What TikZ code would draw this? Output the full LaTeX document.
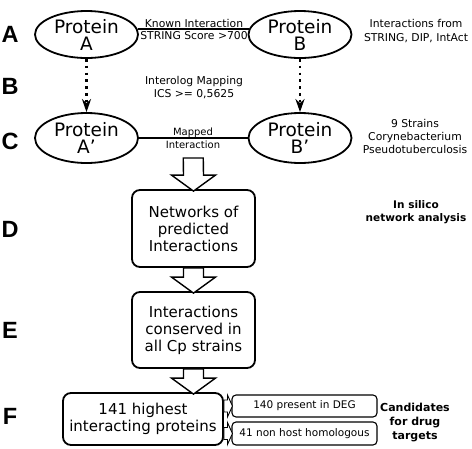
\documentclass[tikz,border=0pt]{standalone}
\usepackage{fontspec}
\setmainfont{DejaVu Sans}
\newfontfamily\letterfont{Liberation Sans}
\usetikzlibrary{calc,arrows.meta,shapes.geometric}
\newcommand{\hollowdown}[2]{%
  \draw[hollow] ($(#1)+(-10,0)$) -- ($(#2)+(-10,-16)$) -- ($(#2)+(-22,-16)$) -- (#2)
    -- ($(#2)+(22,-16)$) -- ($(#2)+(10,-16)$) -- ($(#1)+(10,0)$) -- cycle;}
\newcommand{\hollowright}[2]{%
  \draw[hollowsmall] ($(#1)+(0,-6)$) -- ($(#2)+(-5,-6)$) -- ($(#2)+(-5,-11)$) -- (#2)
    -- ($(#2)+(-5,11)$) -- ($(#2)+(-5,6)$) -- ($(#1)+(0,6)$) -- cycle;}
\begin{document}
\begin{tikzpicture}[x=1pt,y=-1pt,
  prot/.style={ellipse, draw, line width=1.8pt, inner sep=0pt, align=center,
    minimum width=103pt, font=\fontsize{18.5}{17}\selectfont},
  rbox/.style={draw, rounded corners=8pt, line width=1.8pt, inner sep=0pt,
    align=center, font=\fontsize{15}{17}\selectfont},
  sbox/.style={draw, rounded corners=4pt, line width=1.1pt, inner sep=0pt,
    minimum width=145pt, font=\fontsize{10.5}{12}\selectfont},
  hollow/.style={draw, fill=white, line width=1.4pt, line join=miter},
  hollowsmall/.style={draw, fill=white, line width=0.9pt, line join=miter},
  link/.style={line width=2.6pt},
  dotarrow/.style={line width=2.6pt, dash pattern=on 2.6pt off 4.2pt,
    -{Stealth[length=13pt,width=9pt,inset=4pt]}},
  txt/.style={anchor=base, inner sep=0pt, font=\fontsize{10.8}{13}\selectfont},
  btxt/.style={anchor=base, inner sep=0pt, font=\bfseries\fontsize{11}{13}\selectfont},
  letter/.style={inner sep=0pt, font=\letterfont\bfseries\fontsize{23.5}{23.5}\selectfont}
]
\useasboundingbox (0,0) rectangle (472,448);

% letters
\node[letter] (LA) at (10,34.5) {A};
\node[letter] (LB) at (10,86) {B};
\node[letter] (LC) at (10,141) {C};
\node[letter] (LD) at (10,229.5) {D};
\node[letter] (LE) at (10,330) {E};
\node[letter] (LF) at (10,416.5) {F};

% proteins
\node[prot, minimum height=47pt] (A) at (86.5,34.5) {Protein\\A};
\node[prot, minimum height=47pt] (B) at (300,34.5) {Protein\\B};
\node[prot, minimum height=50pt] (Ap) at (86.5,138) {Protein\\A'};
\node[prot, minimum height=50pt] (Bp) at (300,138) {Protein\\B'};

\draw[link] (A.6) -- (B.174);
\draw[line width=2pt] (Ap.east) -- (Bp.west);
\draw[dotarrow] (A.south) -- (Ap.north);
\draw[dotarrow] (B.south) -- (Bp.north);

% texts
\node[txt] (k1) at (194,27) {Known Interaction};
\node[txt] (k2) at (194,39) {STRING Score >700};
\node[txt] (r1) at (416,27) {Interactions from};
\node[txt] (r2) at (416,41) {STRING, DIP, IntAct};
\node[txt] (i1) at (194,84) {Interolog Mapping};
\node[txt] (i2) at (194,97) {ICS >= 0,5625};
\node[txt, font=\fontsize{10}{12}\selectfont] (m1) at (193,135) {Mapped};
\node[txt, font=\fontsize{10}{12}\selectfont] (m2) at (193,148) {Interaction};
\node[txt] (c1) at (415,127) {9 Strains};
\node[txt] (c2) at (415,140) {Corynebacterium};
\node[txt] (c3) at (415,153) {Pseudotuberculosis};
\node[btxt, font=\bfseries\fontsize{10.5}{13}\selectfont] (n1) at (416,208) {In silico};
\node[btxt, font=\bfseries\fontsize{10.5}{13}\selectfont] (n2) at (416,221) {network analysis};
\node[btxt] (d1) at (415,411) {Candidates};
\node[btxt] (d2) at (415,425) {for drug};
\node[btxt] (d3) at (415,439) {targets};

% boxes
\node[rbox, minimum width=123pt, minimum height=77pt] (D) at (193.5,228.5) {Networks of\\predicted\\Interactions};
\node[rbox, minimum width=123pt, minimum height=76pt] (E) at (193.5,330) {Interactions\\conserved in\\all Cp strains};
\node[rbox, minimum width=160pt, minimum height=52pt] (F) at (143,419) {141 highest\\interacting proteins};
\node[sbox, minimum height=22pt] (s1) at (304.5,406) {140 present in DEG};
\node[sbox, minimum height=23pt] (s2) at (304.5,433.5) {41 non host homologous};

% hollow arrows
\coordinate (mid) at ($(Ap.east)!0.5!(Bp.west)$);
\coordinate (a1top) at ($(mid)+(0,20)$);
\coordinate (a1tip) at ($(D.north)+(0,2)$);
\hollowdown{a1top}{a1tip}
\coordinate (a2tip) at ($(E.north)+(0,2)$);
\hollowdown{D.south}{a2tip}
\coordinate (a3top) at (E.south);
\coordinate (a3tip) at ($(E.south |- F.north)+(0,2)$);
\hollowdown{a3top}{a3tip}
\coordinate (f1) at (F.east |- s1.west);
\coordinate (f2) at (F.east |- s2.west);
\coordinate (t1) at ($(s1.west)+(1,0)$);
\coordinate (t2) at ($(s2.west)+(1,0)$);
\hollowright{f1}{t1}
\hollowright{f2}{t2}
\end{tikzpicture}
\end{document}
